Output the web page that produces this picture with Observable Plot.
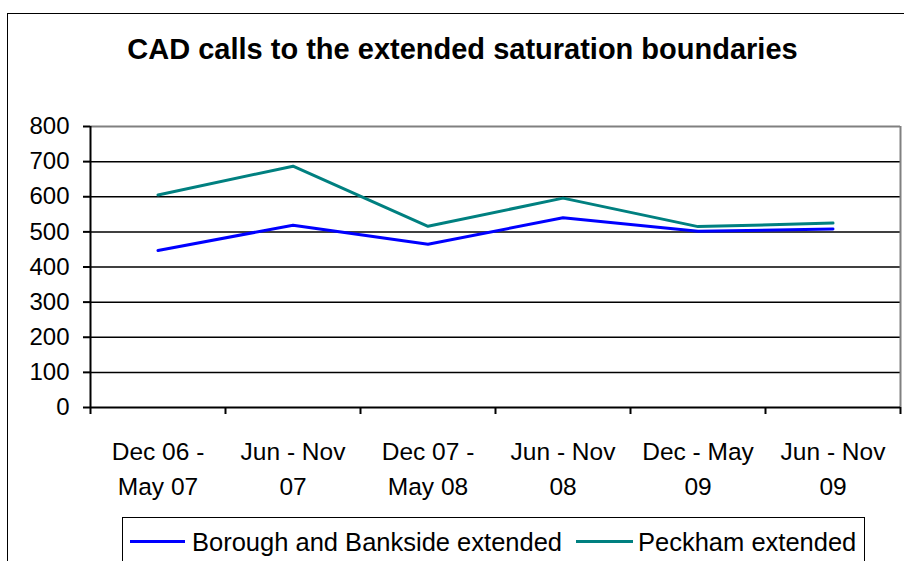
<!DOCTYPE html>
<html><head><meta charset="utf-8">
<script src="https://cdn.jsdelivr.net/npm/d3@7"></script>
<script src="https://cdn.jsdelivr.net/npm/@observablehq/plot@0.6"></script>
<style>
body{margin:0;background:#fff;}
#wrap{position:relative;width:904px;height:561px;overflow:hidden;font-family:"Liberation Sans",Arial,sans-serif;color:#000;}
#border{position:absolute;left:7px;top:13px;width:940px;height:620px;border:1.5px solid #000;box-sizing:border-box;}
#title{position:absolute;left:0;width:925px;top:35px;line-height:29px;text-align:center;font-weight:bold;font-size:29px;white-space:nowrap;}
#chart{position:absolute;left:0;top:0;}
#legend{position:absolute;left:122px;top:517px;width:743px;height:80px;border:1.5px solid #000;box-sizing:border-box;}
.sw{position:absolute;height:3px;top:22px;}
.lt{position:absolute;top:11px;font-size:25.5px;line-height:26px;white-space:nowrap;}
</style>
</head><body>
<div id="wrap">
  <div id="border"></div>
  <div id="chart"></div>
  <div id="title"></div>
  <div id="legend"></div>
</div>
<script>
const titleText = "CAD calls to the extended saturation boundaries";
const categories = ["Dec 06 -\nMay 07","Jun - Nov\n07","Dec 07 -\nMay 08","Jun - Nov\n08","Dec - May\n09","Jun - Nov\n09"];
const borough = [447, 519, 465, 540, 502, 508];
const peckham = [605, 687, 516, 596, 515, 525];
const seriesNames = ["Borough and Bankside extended", "Peckham extended"];
const seriesColors = ["#0000ff", "#008080"];
const yTicks = [0, 100, 200, 300, 400, 500, 600, 700, 800];

document.getElementById("title").textContent = titleText;

const data = categories.flatMap((c, i) => [
  {i, v: borough[i], s: seriesNames[0]},
  {i, v: peckham[i], s: seriesNames[1]}
]);
const boundaries = d3.range(categories.length + 1).map(k => k - 0.5);
const idx = categories.map((c, i) => i);

const plot = Plot.plot({
  width: 904, height: 561,
  marginTop: 126, marginBottom: 154, marginLeft: 90, marginRight: 4,
  x: {type: "linear", domain: [-0.5, categories.length - 0.5], axis: null, label: null},
  y: {domain: [0, 800], axis: null, label: null},
  color: {domain: seriesNames, range: seriesColors},
  style: {fontFamily: "'Liberation Sans', Arial, sans-serif", background: "transparent", color: "#000"},
  marks: [
    Plot.ruleY(yTicks.filter(t => t > 0 && t < 800), {stroke: "#000", strokeWidth: 1.5}),
    Plot.ruleY([800], {stroke: "#808080", strokeWidth: 2}),
    Plot.ruleX([categories.length - 0.5], {stroke: "#808080", strokeWidth: 2}),
    Plot.axisY({ticks: yTicks, label: null, tickSize: 7, tickPadding: 14, fontSize: 24, tickFormat: d => String(d), stroke: "#000", strokeWidth: 2}),
    Plot.axisX({ticks: boundaries, label: null, tickSize: 7, tickFormat: () => "", stroke: "#000", strokeWidth: 2}),
    Plot.text(idx, {x: d => d, y: () => 0, text: d => categories[d], lineAnchor: "top", dy: 28, lineHeight: 1.417, fontSize: 24.5, fill: "#000"}),
    Plot.line(data, {x: "i", y: "v", stroke: "s", z: "s", strokeWidth: 3}),
    Plot.ruleX([-0.5], {stroke: "#000", strokeWidth: 2}),
    Plot.ruleY([0], {stroke: "#000", strokeWidth: 2})
  ]
});
document.getElementById("chart").appendChild(plot);

const legend = document.getElementById("legend");
const swX = [7, 453];
const txX = [69, 515];
seriesNames.forEach((name, k) => {
  const sw = document.createElement("div");
  sw.className = "sw";
  sw.style.left = swX[k] + "px";
  sw.style.width = (k === 0 ? 55 : 57) + "px";
  sw.style.background = seriesColors[k];
  legend.appendChild(sw);
  const t = document.createElement("div");
  t.className = "lt";
  t.style.left = txX[k] + "px";
  t.textContent = name;
  legend.appendChild(t);
});
</script>
</body></html>
